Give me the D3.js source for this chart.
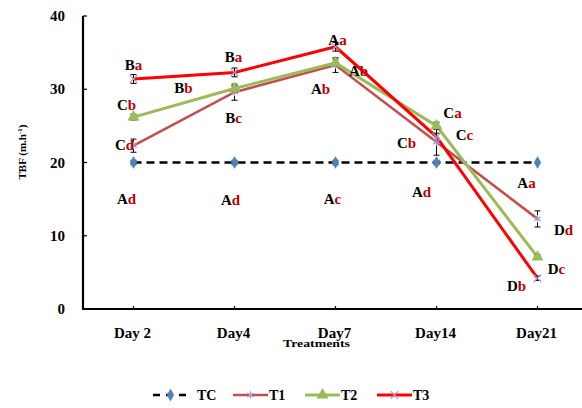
<!DOCTYPE html>
<meta charset="utf-8">
<style>
    body { margin: 0; background: #fff; }
    text { font-family: "Liberation Serif", "Times New Roman", serif; font-weight: bold; }
</style>
<body>
<script src="https://cdn.jsdelivr.net/npm/d3@7"></script>
<script>
    // chart values
    const days = ["Day 2", "Day4", "Day7", "Day14", "Day21"];
    const tc = [20.0, 20.0, 20.0, 20.0, 20.0];
    const t1 = [22.3, 29.6, 33.3, 22.8, 12.3];
    const t2 = [26.2, 30.1, 33.6, 25.0, 7.1];
    const t3 = [31.4, 32.3, 35.8, 23.5, 4.2];
    const tcErr = [0.3, 0.3, 0.3, 0.3, 0];
    const t1Err = [0.9, 1.1, 1.0, 1.8, 1.1];
    const t2Err = [0.4, 0.4, 0.5, 0.5, 0.3];
    const t3Err = [0.6, 0.6, 0.6, 0.5, 0.3];
    const yTicks = [0, 10, 20, 30, 40];

    // significance letters for each day (upper case black, lower case red)
    const letters = [
        ["Ba", "Cb", "Cd", "Ad"],
        ["Ba", "Bb", "Bc", "Ad"],
        ["Aa", "Ab", "Ab", "Ac"],
        ["Ca", "Cc", "Cb", "Ad"],
        ["Aa", "Dd", "Dc", "Db"]
    ];
    // where the letters sit, in TBF units
    const letterValue = [
        [33.3, 27.85, 22.4, 15.0],
        [34.4, 30.2, 26.1, 14.9],
        [36.7, 32.5, 30.0, 15.0],
        [26.8, 23.8, 22.7, 16.0],
        [17.2, 10.8, 5.5, 3.1]
    ];
    const letterNudge = [
        [0, -7, -9, -7],
        [-1, -51, -1, -4],
        [2, 23, -15, -3],
        [16, 28, -30, -15],
        [-11, 26, 19, -21]
    ];

    const series = [
        { name: "TC", values: tc, err: tcErr, color: "#000", width: 2.6, dash: "8,5", symbol: d3.symbolDiamond, size: 40, fill: "#4f81bd" },
        { name: "T1", values: t1, err: t1Err, color: "#c0504d", width: 2.6, dash: null, symbol: d3.symbolAsterisk, size: 40, fill: "#a99bc8" },
        { name: "T2", values: t2, err: t2Err, color: "#9bbb59", width: 3, dash: null, symbol: d3.symbolTriangle, size: 55, fill: "#9bbb59" },
        { name: "T3", values: t3, err: t3Err, color: "#ff0000", width: 3, dash: null, symbol: d3.symbolTimes, size: 40, fill: "#a99bc8" }
    ];

    const W = 582, H = 408;
    const svg = d3.select("body").append("svg")
        .attr("width", W)
        .attr("height", H);

    const x = d3.scalePoint().domain(days).range([83, 588]).padding(0.5);
    const y = d3.scaleLinear().domain([0, 40]).range([309, 16]);

    // axes
    svg.append("line")
        .attr("x1", 83).attr("x2", 83)
        .attr("y1", y(40)).attr("y2", y(0))
        .attr("stroke", "#000").attr("stroke-width", 2.2);
    svg.append("line")
        .attr("x1", 82).attr("x2", W)
        .attr("y1", y(0)).attr("y2", y(0))
        .attr("stroke", "#000").attr("stroke-width", 2.2);

    svg.selectAll(".ytick")
        .data(yTicks)
        .enter().append("line")
        .attr("x1", 83).attr("x2", 87)
        .attr("y1", d => y(d)).attr("y2", d => y(d))
        .attr("stroke", "#000").attr("stroke-width", 1.2);

    svg.selectAll(".ylab")
        .data(yTicks)
        .enter().append("text")
        .attr("x", 65)
        .attr("y", d => y(d) + 5)
        .attr("text-anchor", "end")
        .attr("font-size", 15)
        .text(d => d);

    svg.selectAll(".xtick")
        .data(days)
        .enter().append("line")
        .attr("x1", d => x(d)).attr("x2", d => x(d))
        .attr("y1", y(0)).attr("y2", y(0) - 3)
        .attr("stroke", "#000").attr("stroke-width", 1.2);

    svg.selectAll(".xlab")
        .data(days)
        .enter().append("text")
        .attr("x", d => x(d) - 1)
        .attr("y", 338)
        .attr("text-anchor", "middle")
        .attr("font-size", 15)
        .text(d => d);

    svg.append("text")
        .attr("x", 283).attr("y", 347)
        .attr("font-size", 10)
        .attr("textLength", 67)
        .attr("lengthAdjust", "spacingAndGlyphs")
        .text("Treatments");

    let ytitle = svg.append("text")
        .attr("transform", "translate(26,152) rotate(-90)")
        .attr("text-anchor", "middle")
        .attr("font-size", 11);
    ytitle.append("tspan").text("TBF (m.h");
    ytitle.append("tspan").attr("font-size", 7).attr("dy", -4).text("-1");
    ytitle.append("tspan").attr("dy", 4).text(")");

    // lines
    const line = d3.line()
        .x((d, i) => x(days[i]))
        .y(d => y(d));

    series.forEach(s => {
        svg.append("path")
            .datum(s.values)
            .attr("fill", "none")
            .attr("stroke", s.color)
            .attr("stroke-width", s.width)
            .attr("stroke-dasharray", s.dash)
            .attr("d", line);
    });

    // error bars
    series.forEach(s => {
        let g = svg.append("g").attr("stroke", "#000").attr("stroke-width", 1);
        s.values.forEach((v, i) => {
            if (!s.err[i]) return;
            let cx = x(days[i]), top = y(v + s.err[i]), bot = y(v - s.err[i]);
            g.append("line").attr("x1", cx).attr("x2", cx).attr("y1", top).attr("y2", bot);
            g.append("line").attr("x1", cx - 3).attr("x2", cx + 3).attr("y1", top).attr("y2", top);
            g.append("line").attr("x1", cx - 3).attr("x2", cx + 3).attr("y1", bot).attr("y2", bot);
        });
    });

    // markers
    function drawMarker(sel, s, cx, cy) {
        let open = s.symbol === d3.symbolAsterisk || s.symbol === d3.symbolTimes;
        sel.append("path")
            .attr("transform", "translate(" + cx + "," + cy + ")")
            .attr("d", d3.symbol().type(s.symbol).size(s.size)())
            .attr("fill", open ? "none" : s.fill)
            .attr("stroke", s.fill)
            .attr("stroke-width", open ? 1.2 : 0.5);
    }
    series.forEach(s => {
        s.values.forEach((v, i) => drawMarker(svg, s, x(days[i]), y(v)));
    });

    // letters
    letters.forEach((row, i) => {
        row.forEach((txt, j) => {
            let t = svg.append("text")
                .attr("x", x(days[i]) + letterNudge[i][j])
                .attr("y", y(letterValue[i][j]) + 5)
                .attr("text-anchor", "middle")
                .attr("font-size", 15);
            t.append("tspan").attr("fill", "#000").text(txt[0]);
            t.append("tspan").attr("fill", "#c00000").text(txt[1]);
        });
    });

    // legend
    const legendX = [153, 233, 305, 377];
    const legend = svg.append("g");
    series.forEach((s, i) => {
        let x0 = legendX[i];
        legend.append("line")
            .attr("x1", x0).attr("x2", x0 + 35)
            .attr("y1", 395).attr("y2", 395)
            .attr("stroke", s.color)
            .attr("stroke-width", s.width)
            .attr("stroke-dasharray", s.dash ? "7,6" : null);
        drawMarker(legend, s, x0 + 17.5, 395);
        legend.append("text")
            .attr("x", x0 + 36 + (i === 0 ? 8 : 0))
            .attr("y", 400)
            .attr("font-size", 14)
            .text(s.name);
    });
</script>
</body>
